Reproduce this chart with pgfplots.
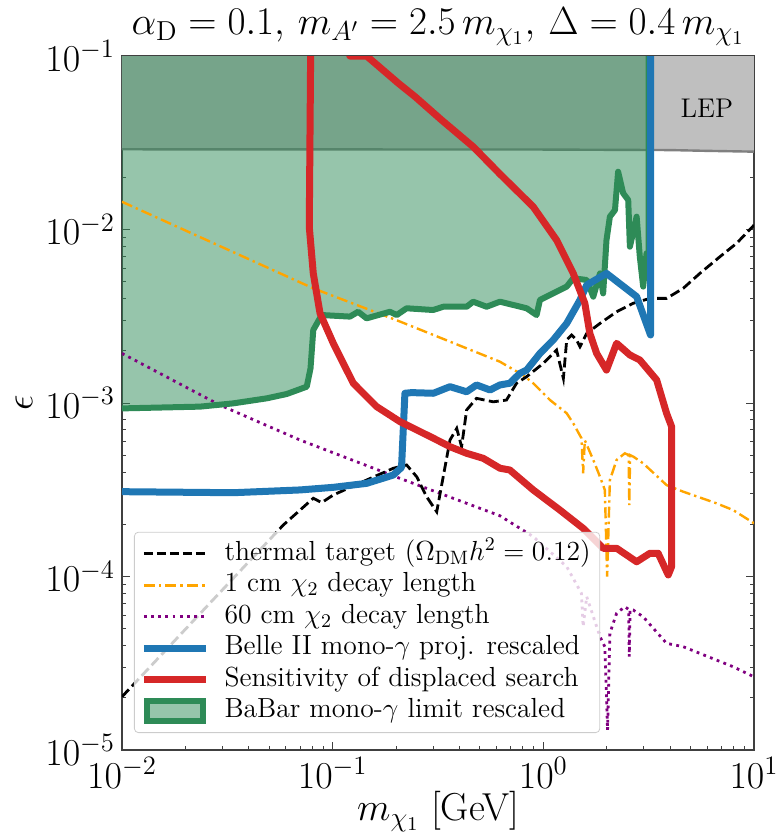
\RequirePackage{fix-cm}
\documentclass[border=0pt]{standalone}
\usepackage{pgfplots}
\pgfplotsset{compat=1.18}
\definecolor{babarline}{RGB}{46,139,87}
\definecolor{babarlegend}{RGB}{150,197,171}
\definecolor{lepgray}{RGB}{191,191,191}
\definecolor{tabblue}{RGB}{31,119,180}
\definecolor{tabred}{RGB}{214,39,40}
\definecolor{myorange}{RGB}{255,165,0}
\definecolor{mypurple}{RGB}{128,0,128}
\begin{document}
\begin{tikzpicture}
\useasboundingbox (-61pt,-41pt) rectangle (327.5pt,375pt);
\begin{axis}[
  at={(0,0)}, anchor=south west,
  scale only axis, width=316pt, height=347pt,
  xmode=log, ymode=log,
  xmin=0.01, xmax=10, ymin=1e-5, ymax=0.1,
  axis line style={black!75, line width=0.6pt},
  tick align=inside,
  major tick length=4pt, minor tick length=2pt,
  every tick/.style={black!75, line width=0.5pt},
  tick label style={font=\fontsize{19}{22}\selectfont},
  title={$\alpha_{\mathrm{D}} = 0.1,\, m_{A'} = 2.5\, m_{\chi_1},\, \Delta = 0.4\, m_{\chi_1}$},
  title style={font=\fontsize{19.6}{22}\selectfont, at={(0.5,1)}, anchor=south, yshift=-4.5pt},
  xlabel={$m_{\chi_1}$ [GeV]},
  ylabel={$\epsilon$},
  xlabel style={font=\fontsize{19.5}{22}\selectfont, at={(axis description cs:0.5,-0.089)}, anchor=center},
  ylabel style={font=\fontsize{19.5}{22}\selectfont, at={(axis description cs:-0.155,0.5)}, anchor=center},
  legend image code/.code={\draw[#1] (0pt,0pt) -- (31pt,0pt); \path (37pt,0pt);},
  legend cell align=left,
  legend style={at={(rel axis cs:0.019,0.0245)}, anchor=south west,
    draw=black!20, rounded corners=2pt, fill=white, fill opacity=0.8,
    draw opacity=1, text opacity=1,
    font=\fontsize{13.8}{16}\selectfont, inner sep=3pt, row sep=0pt,
    nodes={text height=9.5pt, text depth=3pt, inner sep=1.6pt}},
]
% LEP region
\addplot[forget plot, fill=lepgray, draw=none] coordinates {
(0.01,0.0290) (1,0.0289) (4,0.0287) (6,0.0284) (10,0.0281) (10,0.1) (0.01,0.1)} -- cycle;
\addplot[forget plot, gray, line width=1.2pt] coordinates {
(0.01,0.0290) (1,0.0289) (4,0.0287) (6,0.0284) (10,0.0281)};
% BaBar fill
\addplot[forget plot, fill=babarline, fill opacity=0.5, draw=none] coordinates {
(0.01,9.31e-4) (0.02344,9.53e-4) (0.03365,9.95e-4) (0.04864,1.064e-3) (0.06053,1.127e-3)
(0.07534,1.242e-3) (0.07852,1.585e-3) (0.08091,2.636e-3) (0.08872,3.214e-3) (0.1208,3.148e-3)
(0.1321,3.357e-3) (0.1449,3.076e-3) (0.1871,3.357e-3) (0.2014,3.214e-3) (0.2244,3.516e-3)
(0.2999,3.436e-3) (0.3350,3.589e-3) (0.4325,3.589e-3) (0.4645,3.837e-3) (0.5383,3.589e-3)
(0.6223,3.837e-3) (0.8337,3.516e-3) (0.9290,3.214e-3) (0.9638,3.926e-3) (1.114,4.285e-3)
(1.291,4.688e-3) (1.387,5.236e-3) (1.607,5.117e-3) (1.726,4.102e-3) (1.858,5.585e-3)
(1.923,4.285e-3) (1.995,8.690e-3) (2.070,1.186e-2) (2.188,1.294e-2) (2.265,2.153e-2)
(2.393,1.618e-2) (2.529,1.479e-2) (2.576,7.962e-3) (2.773,1.186e-2) (2.871,6.966e-3)
(2.979,4.688e-3) (3.090,7.295e-3) (3.162,7.295e-3) (3.162,0.1) (0.01,0.1)} -- cycle;
% orange 1 cm
\addplot[forget plot, myorange, line width=1.2pt, dash pattern=on 5.5pt off 2pt on 1.2pt off 2pt] coordinates {
(0.01,1.445e-2) (0.08091,4.581e-3) (0.2084,2.951e-3) (0.6223,1.730e-3) (0.8035,1.445e-3)
(0.8954,1.300e-3) (1.076,1.040e-3) (1.291,8.73e-4) (1.387,7.64e-4) (1.517,6.27e-4)
(1.545,3.936e-4) (1.574,6.10e-4) (1.726,4.70e-4) (1.858,3.758e-4) (1.959,3.155e-4)
(2.009,9.98e-5) (2.070,3.597e-4) (2.228,4.70e-4) (2.438,5.13e-4) (2.541,5.01e-4)
(2.559,2.582e-4) (2.582,5.01e-4) (2.673,4.91e-4) (2.979,4.49e-4) (3.846,3.365e-4)
(4.613,3.083e-4) (6.637,2.642e-4) (7.962,2.415e-4) (10.0,2.028e-4)};
% purple 60 cm
\addplot[forget plot, mypurple, line width=1.4pt, dash pattern=on 1.4pt off 2.2pt] coordinates {
(0.01,1.932e-3) (0.02917,9.73e-4) (0.06998,6.12e-4) (0.2084,3.681e-4) (0.6223,2.239e-4)
(0.8954,1.698e-4) (1.291,1.140e-4) (1.517,8.0e-5) (1.545,5.14e-5) (1.607,7.66e-5)
(1.858,4.50e-5) (1.959,3.936e-5) (2.018,1.303e-5) (2.070,4.71e-5) (2.228,6.14e-5)
(2.438,6.70e-5) (2.541,6.46e-5) (2.559,3.45e-5) (2.582,6.46e-5) (2.673,6.41e-5)
(2.979,5.86e-5) (3.846,4.12e-5) (4.613,3.94e-5) (6.637,3.30e-5) (7.962,3.02e-5) (10.0,2.64e-5)};
% thermal target
\addplot[forget plot, black, line width=1.4pt, dash pattern=on 5pt off 2.2pt] coordinates {
(0.01,2.028e-5) (0.05834,1.982e-4) (0.08091,2.825e-4) (0.08872,2.667e-4) (0.1007,2.951e-4)
(0.1449,3.597e-4) (0.1941,4.207e-4) (0.2244,4.395e-4) (0.2506,3.758e-4) (0.2793,2.884e-4)
(0.3119,2.360e-4) (0.3606,6.12e-4) (0.3882,7.14e-4) (0.4093,5.60e-4) (0.4325,9.12e-4)
(0.4819,1.064e-3) (0.5781,1.016e-3) (0.6683,1.040e-3) (0.7464,1.300e-3) (0.8337,1.419e-3)
(1.0,1.694e-3) (1.156,2.018e-3) (1.245,1.387e-3) (1.291,2.307e-3) (1.361,2.466e-3)
(1.439,2.307e-3) (1.493,2.113e-3) (1.607,2.518e-3) (1.858,2.877e-3) (2.228,3.357e-3)
(2.673,3.758e-3) (3.206,4.009e-3) (3.846,4.009e-3) (4.613,4.581e-3) (5.534,5.585e-3)
(6.887,6.966e-3) (8.260,8.318e-3) (10.0,1.059e-2)};
% BaBar line
\addplot[forget plot, babarline, line width=3pt, line join=round] coordinates {
(0.01,9.31e-4) (0.02344,9.53e-4) (0.03365,9.95e-4) (0.04864,1.064e-3) (0.06053,1.127e-3)
(0.07534,1.242e-3) (0.07852,1.585e-3) (0.08091,2.636e-3) (0.08872,3.214e-3) (0.1208,3.148e-3)
(0.1321,3.357e-3) (0.1449,3.076e-3) (0.1871,3.357e-3) (0.2014,3.214e-3) (0.2244,3.516e-3)
(0.2999,3.436e-3) (0.3350,3.589e-3) (0.4325,3.589e-3) (0.4645,3.837e-3) (0.5383,3.589e-3)
(0.6223,3.837e-3) (0.8337,3.516e-3) (0.9290,3.214e-3) (0.9638,3.926e-3) (1.114,4.285e-3)
(1.291,4.688e-3) (1.387,5.236e-3) (1.607,5.117e-3) (1.726,4.102e-3) (1.858,5.585e-3)
(1.923,4.285e-3) (1.995,8.690e-3) (2.070,1.186e-2) (2.188,1.294e-2) (2.265,2.153e-2)
(2.393,1.618e-2) (2.529,1.479e-2) (2.576,7.962e-3) (2.773,1.186e-2) (2.871,6.966e-3)
(2.979,4.688e-3) (3.090,7.295e-3) (3.162,7.295e-3) (3.162,0.12)};
% Belle II
\addplot[forget plot, tabblue, line width=3.5pt, line join=round] coordinates {
(0.01,3.083e-4) (0.03373,3.041e-4) (0.06998,3.155e-4) (0.1007,3.266e-4) (0.1449,3.443e-4)
(0.1941,3.846e-4) (0.2123,4.256e-4) (0.2203,1.138e-3) (0.2371,1.148e-3) (0.3006,1.138e-3)
(0.3606,1.242e-3) (0.4325,1.161e-3) (0.4819,1.271e-3) (0.5585,1.189e-3) (0.6223,1.271e-3)
(0.6934,1.300e-3) (0.7745,1.483e-3) (0.8337,1.549e-3) (0.9638,1.932e-3) (1.114,2.307e-3)
(1.291,2.877e-3) (1.493,3.926e-3) (1.607,4.786e-3) (1.995,5.585e-3) (2.773,4.102e-3)
(3.228,2.466e-3) (3.228,0.12)};
% Sensitivity of displaced search
\addplot[forget plot, tabred, line width=3.5pt, line join=round] coordinates {
(0.07870,0.12) (0.07745,1.038e-2) (0.08091,5.585e-3) (0.08710,3.289e-3) (0.1007,2.208e-3)
(0.1253,1.300e-3) (0.1618,9.53e-4) (0.2084,7.82e-4) (0.3006,6.27e-4) (0.3606,5.60e-4)
(0.4325,5.13e-4) (0.5188,4.80e-4) (0.6223,4.21e-4) (0.6934,4.11e-4) (0.8954,3.155e-4)
(1.199,2.415e-4) (1.545,1.897e-4) (1.923,1.455e-4) (2.228,1.455e-4) (2.773,1.216e-4)
(3.206,1.361e-4) (3.508,1.361e-4) (3.917,1.021e-4) (4.064,1.140e-4) (4.064,7.31e-4)
(3.846,8.73e-4) (3.451,1.358e-3) (2.871,1.770e-3) (2.576,1.892e-3) (2.228,2.208e-3)
(1.995,1.549e-3) (1.791,1.932e-3) (1.663,2.518e-3) (1.574,3.758e-3) (1.387,5.585e-3)
(1.156,8.690e-3) (0.8954,1.352e-2) (0.6223,2.089e-2) (0.4645,3.0e-2) (0.3289,4.276e-2)
(0.2460,5.834e-2) (0.2051,6.966e-2) (0.1560,9.268e-2) (0.1449,0.1) (0.1208,0.1) (0.115,0.12)};
\node[font=\fontsize{13.5}{15}\selectfont] at (axis cs:5.97,0.05) {LEP};
% legend
\addlegendimage{black, line width=1.5pt, dash pattern=on 4.5pt off 2pt}
\addlegendentry{thermal target ($\Omega_{\mathrm{DM}}h^2 = 0.12$)}
\addlegendimage{myorange, line width=1.3pt, dash pattern=on 5.5pt off 2pt on 1.3pt off 2pt}
\addlegendentry{1 cm $\chi_2$ decay length}
\addlegendimage{mypurple, line width=1.4pt, dash pattern=on 1.4pt off 2.2pt}
\addlegendentry{60 cm $\chi_2$ decay length}
\addlegendimage{tabblue, line width=3.5pt}
\addlegendentry{Belle II mono-$\gamma$ proj. rescaled}
\addlegendimage{tabred, line width=3.5pt}
\addlegendentry{Sensitivity of displaced search}
\addlegendimage{legend image code/.code={\draw[draw=babarline, line width=3pt, fill=babarlegend, fill opacity=1, rounded corners=0pt] (1.5pt,-5pt) rectangle (29.5pt,5pt); \path (37pt,0pt);}}
\addlegendentry{BaBar mono-$\gamma$ limit rescaled}
\end{axis}
\end{tikzpicture}
\end{document}
